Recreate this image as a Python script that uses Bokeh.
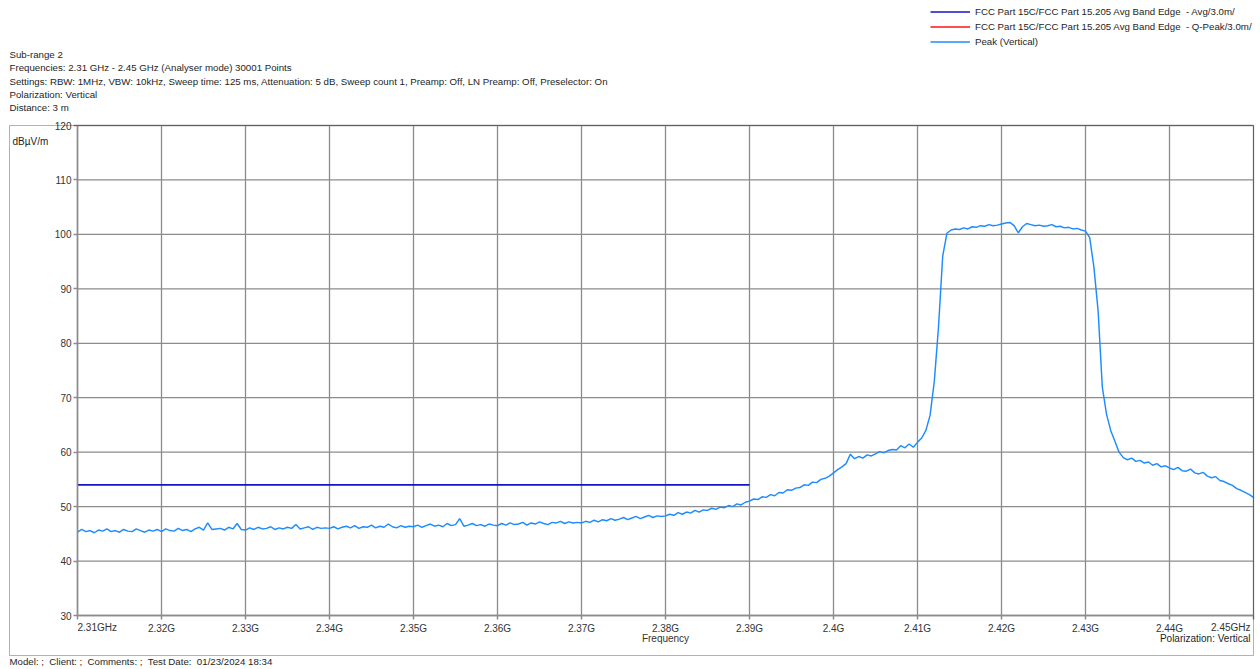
import numpy as np
from bokeh.plotting import figure
from bokeh.models import (FixedTicker, Label, BoxAnnotation, Legend, LegendItem, Range1d)
from bokeh.embed import file_html
from bokeh.resources import INLINE

# ---------------- data ----------------
FREQ_START = 2.31      # GHz
FREQ_STEP = 0.0005     # GHz between samples of the peak trace

# Peak (Vertical) level in dBuV/m, one row per 0.01 GHz (20 samples each)
peak_level = [
    45.3, 45.8, 45.4, 45.6, 45.2, 45.7, 45.5, 45.9, 45.4, 45.6, 45.3, 45.8, 45.5, 45.4, 45.9, 45.6, 45.3, 45.7, 45.5, 45.8,
    45.4, 45.9, 45.6, 45.5, 46.0, 45.6, 45.8, 45.4, 45.9, 46.2, 45.7, 47.0, 45.8, 45.9, 46.0, 45.7, 46.2, 45.9, 46.9, 45.8,
    45.7, 46.1, 45.8, 46.2, 45.9, 46.0, 46.3, 45.8, 46.1, 45.9, 46.2, 46.0, 46.7, 45.9, 46.1, 46.3, 45.8, 46.2, 46.0, 46.1,
    46.0, 46.3, 45.9, 46.2, 46.4, 46.1, 46.5, 46.0, 46.3, 46.2, 46.6, 46.1, 46.4, 46.2, 46.8, 46.3, 46.1, 46.5, 46.2, 46.4,
    46.3, 46.6, 46.2, 46.5, 46.8, 46.4, 46.6, 46.3, 46.9, 46.5, 46.7, 47.8, 46.4, 46.6, 46.9, 46.5, 46.7, 46.4, 46.8, 46.6,
    46.5, 46.9, 46.6, 47.0, 46.7, 46.8, 47.1, 46.6, 47.0, 46.8, 47.2, 46.9, 46.7, 47.1, 47.0, 47.3, 46.9, 47.2, 47.0, 47.1,
    47.0, 47.3, 47.1, 47.5, 47.2, 47.6, 47.4, 47.8, 47.5, 47.7, 48.0, 47.6, 47.9, 48.2, 47.8, 48.1, 48.4, 48.0, 48.3, 48.2,
    48.3, 48.6, 48.4, 48.9, 48.6, 49.0, 48.8, 49.3, 49.0, 49.4, 49.3, 49.7, 49.5, 49.9, 49.8, 50.2, 50.0, 50.5, 50.3, 50.8,
    51.0, 51.4, 51.3, 51.8, 51.7, 52.2, 52.0, 52.6, 52.5, 53.1, 53.0, 53.4, 53.5, 54.0, 53.9, 54.5, 54.4, 55.0, 55.2, 55.6,
    56.2, 56.8, 57.3, 57.9, 59.6, 58.8, 59.2, 58.9, 59.5, 59.3, 59.7, 60.1, 59.9, 60.3, 60.5, 60.4, 61.2, 60.8, 61.5, 60.9,
    61.8, 62.6, 64.0, 66.8, 73.0, 83.0, 96.0, 100.2, 100.8, 101.0, 100.9, 101.2, 101.0, 101.4, 101.3, 101.6, 101.5, 101.8, 101.6, 101.7,
    101.9, 102.1, 102.2, 101.6, 100.3, 101.4, 102.0, 101.8, 101.6, 101.7, 101.5, 101.6, 101.8, 101.4, 101.5, 101.2, 101.3, 101.0, 101.1, 100.8,
    100.6, 99.4, 94.0, 86.0, 72.0, 67.0, 64.0, 62.0, 60.0, 59.0, 58.6, 58.9, 58.3, 58.5, 58.0, 58.2, 57.6, 57.9, 57.3, 57.5,
    57.1, 56.8, 57.2, 56.6, 56.5, 56.9, 56.2, 56.0, 56.3, 55.6, 55.3, 55.5, 54.8, 54.6, 54.2, 53.9, 53.3, 53.0, 52.6, 52.2,
    51.7,
]
peak_freq = np.round(FREQ_START + FREQ_STEP * np.arange(len(peak_level)), 4)

# FCC Part 15.205 average limit (drawn up to the band edge)
limit_freq = [2.31, 2.39]
limit_level = [54.0, 54.0]
# Q-Peak limit: listed in the legend, no visible trace in the plot
qpeak_freq = [np.nan]
qpeak_level = [np.nan]

x_ticks = [2.31, 2.32, 2.33, 2.34, 2.35, 2.36, 2.37, 2.38, 2.39, 2.40, 2.41, 2.42, 2.43, 2.44, 2.45]
x_tick_labels = ["2.31GHz", "2.32G", "2.33G", "2.34G", "2.35G", "2.36G", "2.37G", "2.38G",
                 "2.39G", "2.4G", "2.41G", "2.42G", "2.43G", "2.44G", "2.45GHz"]
y_ticks = [30, 40, 50, 60, 70, 80, 90, 100, 110, 120]

NB2 = " \u00a0"   # double space that survives in SVG text
header_lines = [
    "Sub-range 2",
    "Frequencies: 2.31 GHz - 2.45 GHz (Analyser mode) 30001 Points",
    "Settings: RBW: 1MHz, VBW: 10kHz, Sweep time: 125 ms, Attenuation: 5 dB, Sweep count 1, Preamp: Off, LN Preamp: Off, Preselector: On",
    "Polarization: Vertical",
    "Distance: 3 m",
]
legend_labels = [
    "FCC Part 15C/FCC Part 15.205 Avg Band Edge" + NB2 + "- Avg/3.0m/",
    "FCC Part 15C/FCC Part 15.205 Avg Band Edge" + NB2 + "- Q-Peak/3.0m/",
    "Peak (Vertical)",
]
y_unit = "dBµV/m"
x_title = "Frequency"
polarization_note = "Polarization: Vertical"
footer_text = ("Model: ;" + NB2 + "Client: ;" + NB2 + "Comments: ;" + NB2 +
               "Test Date:" + NB2 + "01/23/2024 18:34")

# ---------------- layout (pixels) ----------------
FONT = "Liberation Sans"
GRID = "#8c8c8c"
TXT = "#1e1e1e"
W, H = 1260, 669
PL, PR, PT, PB = 77, 1253, 125, 615          # data area inside the canvas
BOX_L, BOX_B = 9, 655                        # outer frame around data area + axes

X0, X1 = x_ticks[0], x_ticks[-1]
Y0, Y1 = y_ticks[0], y_ticks[-1]
sx = (PR - PL) / (X1 - X0)
sy = (PB - PT) / (Y1 - Y0)

p = figure(width=W, height=H,
           x_range=Range1d(X0 - PL / sx, X1 + (W - PR) / sx),
           y_range=Range1d(Y0 - (H - PB) / sy, Y1 + PT / sy),
           output_backend="svg", toolbar_location=None)
p.min_border = 0
p.min_border_left = p.min_border_right = p.min_border_top = p.min_border_bottom = 0
p.outline_line_color = None
p.background_fill_color = "white"
p.border_fill_color = "white"
p.xgrid.visible = False
p.ygrid.visible = False

# grid lines (from the tick values)
n_x, n_y = len(x_ticks), len(y_ticks)
p.segment(x0=x_ticks, y0=[Y0] * n_x, x1=x_ticks, y1=[Y1] * n_x, line_color=GRID, line_width=1.3)
p.segment(x0=[X0] * n_y, y0=y_ticks, x1=[X1] * n_y, y1=y_ticks, line_color=GRID, line_width=1.3)

# axes fixed on the data area
p.xaxis.fixed_location = Y0
p.xaxis.bounds = (X0, X1)
p.yaxis.fixed_location = X0
p.yaxis.bounds = (Y0, Y1)
p.xaxis.ticker = FixedTicker(ticks=x_ticks)
overrides = {t: lab for t, lab in zip(x_ticks, x_tick_labels)}
overrides[x_ticks[0]] = ""
overrides[x_ticks[-1]] = ""
p.xaxis.major_label_overrides = overrides
p.yaxis.ticker = FixedTicker(ticks=y_ticks)
for ax in (p.xaxis[0], p.yaxis[0]):
    ax.major_label_text_font = FONT
    ax.major_label_text_font_size = "10px"
    ax.major_label_text_color = "#333333"
    ax.major_tick_out = 4
    ax.major_tick_in = 0
    ax.minor_tick_out = 0
    ax.minor_tick_in = 0
    ax.axis_line_color = GRID
    ax.axis_line_width = 1.5
    ax.major_tick_line_color = GRID
    ax.major_tick_line_width = 1.5
p.xaxis.major_label_standoff = 3
p.yaxis.major_label_standoff = 2

# data
lim = p.line(limit_freq, limit_level, line_color="#1414c8", line_width=1.6)
qpk = p.line(qpeak_freq, qpeak_level, line_color="#ff1010", line_width=1.6)
pk = p.line(peak_freq, peak_level, line_color="#1e8cff", line_width=1.45)

legend = Legend(items=[LegendItem(label=legend_labels[0], renderers=[lim]),
                       LegendItem(label=legend_labels[1], renderers=[qpk]),
                       LegendItem(label=legend_labels[2], renderers=[pk])],
                location=(930, H - 48.5), padding=0, margin=0,
                border_line_color=None, background_fill_alpha=0,
                glyph_width=40, glyph_height=15, label_height=15, label_standoff=5,
                spacing=0, label_text_font=FONT, label_text_font_size="9.7px",
                label_text_color=TXT)
p.add_layout(legend)

# outer frame around the data area and its axes
p.add_layout(BoxAnnotation(left=BOX_L, right=PR, top=H - PT, bottom=H - BOX_B,
                           left_units="screen", right_units="screen",
                           top_units="screen", bottom_units="screen",
                           fill_alpha=0, line_color="black", line_width=1))


def page_label(text, px, py, align="left", size="9.7px", color=TXT):
    # px, py: canvas pixel position measured from the top-left corner
    p.add_layout(Label(x=px, y=H - py, x_units="screen", y_units="screen",
                       text=text, text_font=FONT, text_font_size=size,
                       text_color=color, text_align=align, text_baseline="middle"))


for i, line in enumerate(header_lines):
    page_label(line, 9, 54 + 13.25 * i)

page_label(y_unit, 12, 141, size="10px")
page_label(polarization_note, 1250, 638, align="right", size="10px")
page_label(footer_text, 9, 661)
p.add_layout(Label(x=(X0 + X1) / 2, y=H - 638, x_units="data", y_units="screen", text=x_title,
                   text_font=FONT, text_font_size="10px", text_color="#333333",
                   text_align="center", text_baseline="middle"))

# end tick labels of the frequency axis (left / right aligned as in the original)
for val, lab, align, off in ((x_ticks[0], x_tick_labels[0], "left", 0),
                             (x_ticks[-1], x_tick_labels[-1], "right", -3)):
    p.add_layout(Label(x=val, y=H - 627, x_units="data", y_units="screen", text=lab,
                       text_font=FONT, text_font_size="10px", text_color="#333333",
                       text_align=align, text_baseline="middle", x_offset=off))

open("out.html", "w").write(file_html(p, INLINE))
